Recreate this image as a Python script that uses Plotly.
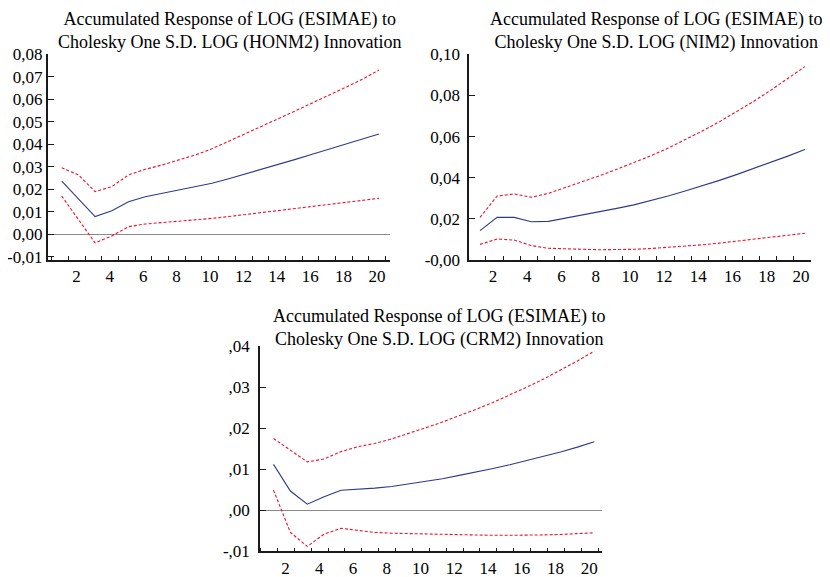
import plotly.graph_objects as go

# ---------------- data ----------------
periods = list(range(1, 21))

honm2_resp = [0.0237, 0.0157, 0.0079, 0.0105, 0.0145, 0.0167, 0.0182, 0.0194, 0.0209, 0.0227,
              0.0247, 0.0268, 0.0289, 0.0311, 0.0333, 0.0356, 0.0378, 0.0401, 0.0423, 0.0446]
honm2_upper = [0.0296, 0.0264, 0.0190, 0.0212, 0.0264, 0.0289, 0.0308, 0.0330, 0.0353, 0.0380,
               0.0413, 0.0447, 0.0481, 0.0515, 0.0549, 0.0583, 0.0618, 0.0653, 0.0689, 0.0730]
honm2_lower = [0.0170, 0.0066, -0.0038, -0.0007, 0.0034, 0.0046, 0.0052, 0.0056, 0.0064, 0.0071,
               0.0079, 0.0088, 0.0097, 0.0106, 0.0115, 0.0124, 0.0133, 0.0142, 0.0151, 0.0160]

nim2_resp = [0.0143, 0.0207, 0.0207, 0.0186, 0.0188, 0.0203, 0.0219, 0.0233, 0.0251, 0.0268,
             0.0289, 0.0311, 0.0335, 0.0360, 0.0387, 0.0415, 0.0444, 0.0474, 0.0505, 0.0537]
nim2_upper = [0.0207, 0.0311, 0.0321, 0.0305, 0.0324, 0.0352, 0.0381, 0.0410, 0.0441, 0.0473,
              0.0507, 0.0544, 0.0584, 0.0627, 0.0672, 0.0720, 0.0771, 0.0825, 0.0881, 0.0940]
nim2_lower = [0.0076, 0.0102, 0.0097, 0.0070, 0.0057, 0.0053, 0.0052, 0.0050, 0.0050, 0.0052,
              0.0056, 0.0061, 0.0067, 0.0074, 0.0082, 0.0091, 0.0100, 0.0110, 0.0120, 0.0130]

crm2_resp = [0.0112, 0.0047, 0.0015, 0.0033, 0.0049, 0.0051, 0.0054, 0.0058, 0.0064, 0.0070,
             0.0077, 0.0085, 0.0093, 0.0102, 0.0111, 0.0121, 0.0131, 0.0142, 0.0154, 0.0167]
crm2_upper = [0.0175, 0.0147, 0.0118, 0.0125, 0.0143, 0.0155, 0.0163, 0.0174, 0.0187, 0.0201,
              0.0215, 0.0230, 0.0246, 0.0263, 0.0281, 0.0300, 0.0320, 0.0341, 0.0364, 0.0388]
crm2_lower = [0.0049, -0.0054, -0.0088, -0.0058, -0.0044, -0.0049, -0.0054, -0.0056, -0.0057, -0.0058,
              -0.0059, -0.0060, -0.0061, -0.0061, -0.0061, -0.0061, -0.0060, -0.0059, -0.0057, -0.0055]

x_tickvals = [2, 4, 6, 8, 10, 12, 14, 16, 18, 20]
x_ticktext = ["2", "4", "6", "8", "10", "12", "14", "16", "18", "20"]

y1_tickvals = [-0.01, 0.0, 0.01, 0.02, 0.03, 0.04, 0.05, 0.06, 0.07, 0.08]
y1_ticktext = ["-0,01", "0,00", "0,01", "0,02", "0,03", "0,04", "0,05", "0,06", "0,07", "0,08"]
y2_tickvals = [0.0, 0.02, 0.04, 0.06, 0.08, 0.10]
y2_ticktext = ["-0,00", "0,02", "0,04", "0,06", "0,08", "0,10"]
y3_tickvals = [-0.01, 0.0, 0.01, 0.02, 0.03, 0.04]
y3_ticktext = ["-,01", ",00", ",01", ",02", ",03", ",04"]

titles = [
    "Accumulated Response of LOG (ESIMAE) to<br>Cholesky One S.D. LOG (HONM2) Innovation",
    "Accumulated Response of LOG (ESIMAE) to<br>Cholesky One S.D. LOG (NIM2) Innovation",
    "Accumulated Response of LOG (ESIMAE) to<br>Cholesky One S.D. LOG (CRM2) Innovation",
]

# ---------------- styling ----------------
FONT = "Liberation Serif"
BLUE = "#2e3a8c"
RED = "#f0102a"
OFF = 8                      # page body margin of the html page
W, H = 830 - OFF, 577 - OFF

fig = go.Figure()

panels = [
    (honm2_resp, honm2_upper, honm2_lower, "x", "y"),
    (nim2_resp, nim2_upper, nim2_lower, "x2", "y2"),
    (crm2_resp, crm2_upper, crm2_lower, "x3", "y3"),
]
for resp, up, lo, xa, ya in panels:
    for series, color, dash in [(up, RED, "3px,2px"), (lo, RED, "3px,2px"), (resp, BLUE, "solid")]:
        fig.add_trace(go.Scatter(x=periods, y=series, mode="lines", xaxis=xa, yaxis=ya,
                                 line=dict(color=color, width=1.1, dash=dash),
                                 showlegend=False, hoverinfo="skip"))

def px_dom_x(a, b):
    return [(a - OFF) / W, (b - OFF) / W]

def px_dom_y(top, bottom):
    return [1 - (bottom - OFF) / H, 1 - (top - OFF) / H]

def xaxis_cfg(dom, rng, anchor, shift, tick0):
    return dict(domain=dom, range=rng, anchor=anchor, tickmode="array",
                tickvals=x_tickvals, ticktext=x_ticktext, ticks="",
                showline=True, linecolor="#1a1a1a", linewidth=1.6,
                showgrid=False, zeroline=False, automargin=False,
                tickfont=dict(family=FONT, size=17, color="black"),
                ticklabelshift=shift, ticklabelstandoff=0,
                minor=dict(ticks="inside", ticklen=4, tickwidth=1.2, tickcolor="#1a1a1a",
                           tickmode="linear", tick0=tick0, dtick=1, showgrid=False))

def yaxis_cfg(dom, rng, anchor, tv, tt, zl, standoff):
    return dict(domain=dom, range=rng, anchor=anchor, tickmode="array",
                tickvals=tv, ticktext=tt, ticks="inside", ticklen=6, tickwidth=1.4,
                tickcolor="#1a1a1a",
                showline=True, linecolor="#1a1a1a", linewidth=1.6,
                showgrid=False, zeroline=zl, zerolinecolor="#8a8a8a", zerolinewidth=1.4,
                automargin=False,
                tickfont=dict(family=FONT, size=17, color="black"),
                ticklabelstandoff=standoff)

fig.update_layout(
    width=W, height=H,
    margin=dict(l=0, r=0, t=0, b=0),
    paper_bgcolor="white", plot_bgcolor="white",
    font=dict(family=FONT),
    xaxis=xaxis_cfg(px_dom_x(47.7, 390), [0.16, 20.66], "y", -2, 0.4),
    yaxis=yaxis_cfg(px_dom_y(54.3, 260), [-0.0114, 0.08], "x", y1_tickvals, y1_ticktext, True, 0),
    xaxis2=xaxis_cfg(px_dom_x(469.3, 810.7), [0.374, 20.34], "y2", -4, 0.35),
    yaxis2=yaxis_cfg(px_dom_y(54.3, 260), [0.0, 0.10], "x2", y2_tickvals, y2_ticktext, False, 4),
    xaxis3=xaxis_cfg(px_dom_x(260, 601.7), [0.2, 20.44], "y3", -5, 0.23),
    yaxis3=yaxis_cfg(px_dom_y(346.2, 551.3), [-0.01, 0.04], "x3", y3_tickvals, y3_ticktext, True, 5),
)

title_pos = [(229, 30.8), (656, 30.8), (439, 327.5)]
for (cx, cy), t in zip(title_pos, titles):
    fig.add_annotation(text=t, x=(cx - OFF) / W, y=1 - (cy - OFF) / H, xref="paper", yref="paper",
                       xanchor="center", yanchor="middle", showarrow=False,
                       font=dict(family=FONT, size=18, color="black"), align="center")

fig.write_html("out.html")
